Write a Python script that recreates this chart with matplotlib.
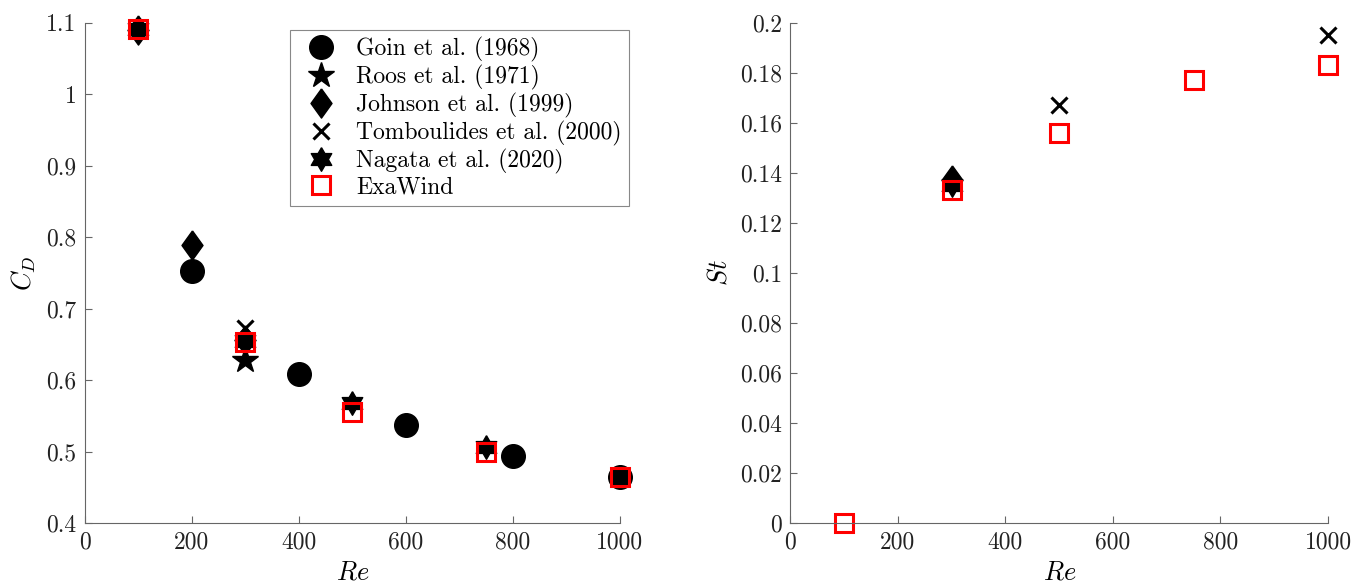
import numpy as np
import matplotlib.pyplot as plt
from matplotlib.ticker import FuncFormatter

plt.rcParams['font.family'] = ['cmr10', 'DejaVu Serif']
plt.rcParams['mathtext.fontset'] = 'cm'
plt.rcParams['axes.unicode_minus'] = False
plt.rcParams['axes.formatter.use_mathtext'] = True

# drag coefficient data
goin_re = [200, 400, 600, 800, 1000]
goin_cd = [0.752, 0.608, 0.537, 0.494, 0.465]
roos_re = [300]
roos_cd = [0.628]
johnson_re = [100, 200, 300]
johnson_cd = [1.090, 0.789, 0.656]
tomb_re = [300]
tomb_cd = [0.673]
nagata_re = [100, 300, 500, 750]
nagata_cd = [1.092, 0.655, 0.568, 0.507]
exa_re = [100, 300, 500, 750, 1000]
exa_cd = [1.092, 0.653, 0.555, 0.500, 0.465]

# Strouhal number data
johnson_st_re = [300]
johnson_st = [0.137]
tomb_st_re = [500, 1000]
tomb_st = [0.167, 0.195]
nagata_st_re = [300]
nagata_st = [0.135]
exa_st_re = [100, 300, 500, 750, 1000]
exa_st = [0.0, 0.133, 0.156, 0.177, 0.183]

# marker shapes close to MATLAB's diamond and hexagram
diamond = [(0, 1), (0.72, 0), (0, -1), (-0.72, 0), (0, 1)]
ang = np.pi / 2 + np.arange(12) * np.pi / 6
rad = np.where(np.arange(12) % 2 == 0, 1.0, 0.58)
hexagram = list(zip(rad * np.cos(ang), rad * np.sin(ang)))
hexagram.append(hexagram[0])

fig = plt.figure(figsize=(13.51, 5.85), dpi=100)
ax1 = fig.add_axes([0.0629, 0.106, 0.396, 0.855])
ax2 = fig.add_axes([0.585, 0.106, 0.398, 0.855])

kw = dict(ls='none', clip_on=False)
ax1.plot(goin_re, goin_cd, 'o', color='k', ms=17, label='Goin et al. (1968)', **kw)
ax1.plot(roos_re, roos_cd, '*', color='k', ms=19, label='Roos et al. (1971)', **kw)
ax1.plot(johnson_re, johnson_cd, marker=diamond, color='k', ms=21, label='Johnson et al. (1999)', **kw)
ax1.plot(tomb_re, tomb_cd, 'x', color='k', ms=12, mew=2.2, label='Tomboulides et al. (2000)', **kw)
ax1.plot(nagata_re, nagata_cd, marker=hexagram, color='k', ms=17, label='Nagata et al. (2020)', **kw)
ax1.plot(exa_re, exa_cd, 's', mfc='none', mec='red', mew=2.2, ms=13, label='ExaWind', **kw)

ax2.plot(johnson_st_re, johnson_st, marker=diamond, color='k', ms=21, **kw)
ax2.plot(tomb_st_re, tomb_st, 'x', color='k', ms=12, mew=2.2, **kw)
ax2.plot(nagata_st_re, nagata_st, marker=hexagram, color='k', ms=17, **kw)
ax2.plot(exa_st_re, exa_st, 's', mfc='none', mec='red', mew=2.2, ms=13, **kw)

fmt = FuncFormatter(lambda v, p: '%g' % round(v, 4))
for ax in (ax1, ax2):
    ax.set_xlim(0, 1000)
    ax.set_xticks(np.arange(0, 1001, 200))
    ax.spines['top'].set_visible(False)
    ax.spines['right'].set_visible(False)
    for s in ('left', 'bottom'):
        ax.spines[s].set_color('#666666')
        ax.spines[s].set_linewidth(0.8)
    ax.tick_params(direction='in', length=5, width=0.8, color='#666666',
                   labelsize=17, labelcolor='#222222', pad=6)
    ax.xaxis.set_major_formatter(fmt)
    ax.yaxis.set_major_formatter(fmt)
    ax.set_xlabel('$Re$', fontsize=19, labelpad=5)

ax1.set_ylim(0.4, 1.1)
ax1.set_yticks(np.arange(0.4, 1.101, 0.1))
ax1.set_ylabel('$C_D$', fontsize=19, labelpad=6)

ax2.set_ylim(0, 0.2)
ax2.set_yticks(np.arange(0, 0.201, 0.02))
ax2.set_ylabel('$St$', fontsize=19, labelpad=6)

leg = ax1.legend(loc='upper left', bbox_to_anchor=(0.383, 0.986), borderaxespad=0,
                 fontsize=17, fancybox=False, edgecolor='#888888', framealpha=1,
                 handletextpad=0.5, labelspacing=0.12, borderpad=0.3)
leg.get_frame().set_linewidth(0.8)

fig.savefig('out.png', dpi=100)
